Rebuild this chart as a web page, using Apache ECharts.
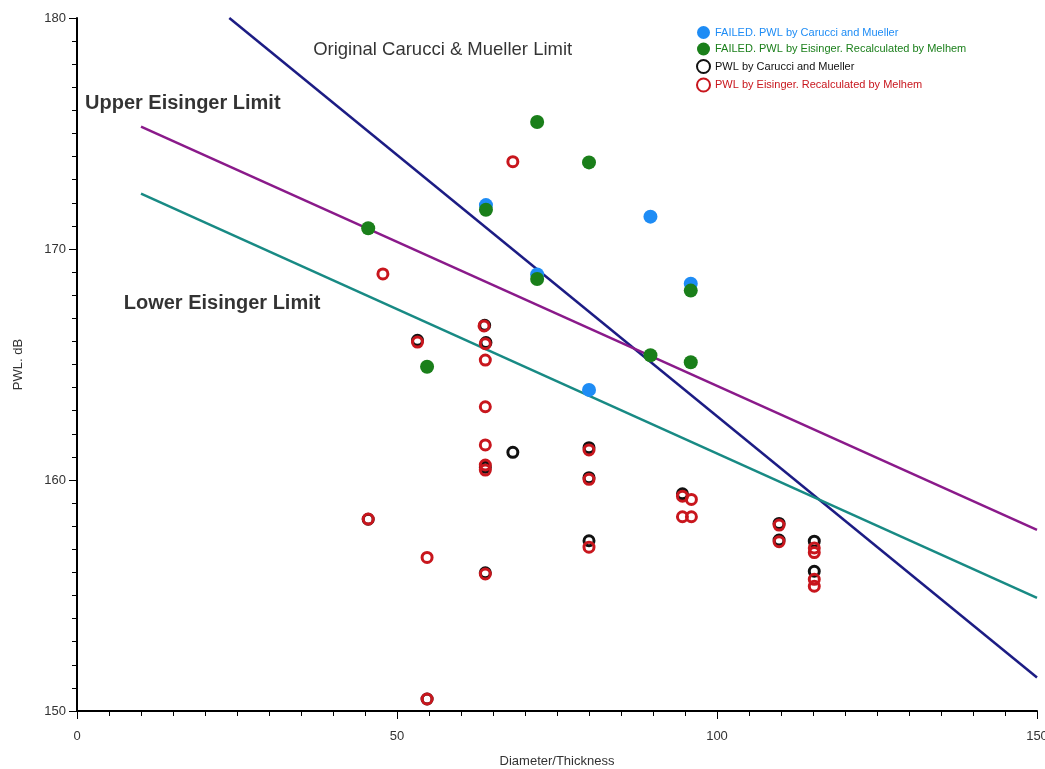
<!DOCTYPE html>
<html>
<head>
<meta charset="utf-8">
<script src="https://cdn.jsdelivr.net/npm/echarts@6/dist/echarts.min.js"></script>
<style>
html,body{margin:0;padding:0;background:#fff;}
#chart{width:1045px;height:769px;}
</style>
</head>
<body>
<div id="chart"></div>
<script>
// ---- data ----
const xTicks = [0, 50, 100, 150];
const yTicks = [150, 160, 170, 180];

const failedCarucci = [
  [63.9, 171.9], [89.6, 171.4], [95.9, 168.5], [71.9, 168.9], [80.0, 163.9]
];
const failedEisinger = [
  [45.5, 170.9], [71.9, 175.5], [80.0, 173.75], [63.9, 171.7], [71.9, 168.7],
  [54.7, 164.9], [89.6, 165.4], [95.9, 168.2], [95.9, 165.1]
];
const pwlCarucci = [
  [53.2, 166.05], [63.7, 166.7], [63.9, 165.95], [63.8, 160.55], [63.8, 155.98],
  [68.1, 161.2], [80.0, 161.4], [80.0, 160.1], [80.0, 157.37], [94.6, 159.4],
  [109.7, 158.12], [109.7, 157.4], [115.2, 157.35], [115.2, 156.05], [45.5, 158.3],
  [54.7, 150.52]
];
const pwlEisinger = [
  [68.1, 173.78], [47.8, 168.92], [53.2, 165.97], [63.6, 166.67], [63.8, 165.9],
  [63.8, 165.19], [63.8, 163.17], [63.8, 161.52], [63.8, 160.65], [63.8, 160.43],
  [45.5, 158.31], [54.7, 156.65], [63.8, 155.93], [54.7, 150.52], [80.0, 161.3],
  [80.0, 160.03], [80.0, 157.09], [94.6, 159.3], [96.0, 159.16], [94.6, 158.41],
  [96.0, 158.41], [109.7, 158.05], [109.7, 157.33], [115.2, 157.06], [115.2, 156.86],
  [115.2, 155.7], [115.2, 155.4]
];

const carucciLimit = [[23.8, 180], [150, 151.45]];
const upperEisinger = [[10, 175.3], [150, 157.84]];
const lowerEisinger = [[10, 172.4], [150, 154.9]];

const annotations = [
  {name: 'Original Carucci & Mueller Limit', value: [36.9, 178.6], bold: false},
  {name: 'Upper Eisinger Limit', value: [1.25, 176.28], bold: true},
  {name: 'Lower Eisinger Limit', value: [7.3, 167.62], bold: true}
];

const seriesNames = [
  'FAILED. PWL by Carucci and Mueller',
  'FAILED. PWL by Eisinger. Recalculated by Melhem',
  'PWL by Carucci and Mueller',
  'PWL by Eisinger. Recalculated by Melhem'
];
const seriesColors = ['#1e8cf5', '#1a7f1a', '#111111', '#c8161d'];

// ---- chart ----
const chart = echarts.init(document.getElementById('chart'), null, {renderer: 'canvas'});
const FONT = '"Liberation Sans", Arial, sans-serif';

function lineSeries(data, color) {
  return {
    type: 'line', data: data, showSymbol: false, symbol: 'none', silent: true,
    lineStyle: {color: color, width: 2.5}, z: 1, animation: false
  };
}

const option = {
  animation: false,
  backgroundColor: '#fff',
  grid: {left: 77, right: 8, top: 18, bottom: 58, containLabel: false, outerBoundsMode: 'none'},
  legend: {
    left: 691, top: 21, orient: 'vertical',
    itemWidth: 13, itemHeight: 13, itemGap: 3.5,
    textStyle: {fontFamily: FONT, fontSize: 11},
    data: seriesNames.map((n, i) => ({name: n, textStyle: {color: seriesColors[i]}}))
  },
  xAxis: {
    type: 'value', min: 0, max: 150, interval: 50,
    name: 'Diameter/Thickness', nameLocation: 'middle', nameGap: 44,
    nameTextStyle: {fontFamily: FONT, fontSize: 13, color: '#333'},
    axisLine: {show: true, onZero: false, lineStyle: {color: '#000', width: 2}},
    axisTick: {show: true, length: 8, lineStyle: {color: '#000', width: 1}},
    minorTick: {show: true, splitNumber: 10, length: 5, lineStyle: {color: '#000', width: 1}},
    axisLabel: {fontFamily: FONT, fontSize: 13, color: '#333', margin: 19},
    splitLine: {show: false}
  },
  yAxis: {
    type: 'value', min: 150, max: 180, interval: 10,
    name: 'PWL. dB', nameLocation: 'middle', nameGap: 52, nameRotate: 90,
    nameTextStyle: {fontFamily: FONT, fontSize: 13, color: '#333'},
    axisLine: {show: true, onZero: false, lineStyle: {color: '#000', width: 2}},
    axisTick: {show: true, length: 8, lineStyle: {color: '#000', width: 1}},
    minorTick: {show: true, splitNumber: 10, length: 5, lineStyle: {color: '#000', width: 1}},
    axisLabel: {fontFamily: FONT, fontSize: 13, color: '#333', margin: 11},
    splitLine: {show: false}
  },
  series: [
    lineSeries(carucciLimit, '#1c1c84'),
    lineSeries(upperEisinger, '#8a1a8a'),
    lineSeries(lowerEisinger, '#188a84'),
    {
      name: seriesNames[0], type: 'scatter', data: failedCarucci, symbol: 'circle', symbolSize: 14,
      itemStyle: {color: seriesColors[0], opacity: 1}, z: 3
    },
    {
      name: seriesNames[1], type: 'scatter', data: failedEisinger, symbol: 'circle', symbolSize: 14,
      itemStyle: {color: seriesColors[1], opacity: 1}, z: 4
    },
    {
      name: seriesNames[2], type: 'scatter', data: pwlCarucci, symbol: 'circle', symbolSize: 10,
      itemStyle: {color: 'rgba(255,255,255,0)', borderColor: seriesColors[2], borderWidth: 3, opacity: 1}, z: 5
    },
    {
      name: seriesNames[3], type: 'scatter', data: pwlEisinger, symbol: 'circle', symbolSize: 10,
      itemStyle: {color: 'rgba(255,255,255,0)', borderColor: seriesColors[3], borderWidth: 3, opacity: 1}, z: 6
    },
    {
      type: 'scatter', silent: true, symbolSize: 0, z: 7,
      data: annotations.map(a => ({
        name: a.name, value: a.value,
        label: {
          show: true, position: 'right', distance: 0, formatter: '{b}',
          fontFamily: FONT, color: '#000',
          fontSize: a.bold ? 20 : 18.5, fontWeight: a.bold ? 'bold' : 'normal'
        }
      }))
    }
  ]
};
chart.setOption(option);
</script>
</body>
</html>
